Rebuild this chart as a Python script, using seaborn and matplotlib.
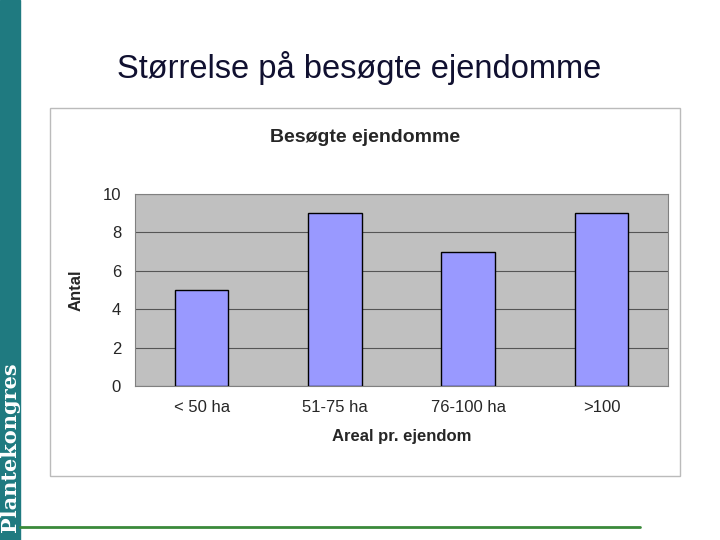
import matplotlib
matplotlib.use("Agg")
import matplotlib.pyplot as plt
import seaborn as sns
import pandas as pd
from matplotlib.patches import Rectangle
from matplotlib.lines import Line2D

categories = ["< 50 ha", "51-75 ha", "76-100 ha", ">100"]
values = [5, 9, 7, 9]
yticks = [0, 2, 4, 6, 8, 10]

sns.set_style("white")
plt.rcParams['font.family'] = ['Liberation Sans', 'DejaVu Sans']

fig = plt.figure(figsize=(7.2, 5.4), dpi=100)
fig.patches.append(Rectangle((0, 0), 20/720, 1, transform=fig.transFigure, color="#1F7A80", zorder=0))
fig.text(10/720, 0.015, "Plantekongres", rotation=90, color="white", fontsize=15, fontweight="bold",
         family="DejaVu Serif", ha="center", va="bottom")
fig.text(359/720, 1-68/540, "Størrelse på besøgte ejendomme", fontsize=23.5, ha="center", va="center",
         color="#101030")
fig.patches.append(Rectangle((50/720, 1-476/540), 630/720, 368/540, transform=fig.transFigure,
                             fill=False, edgecolor="#BBBBBB", lw=1))
fig.lines.append(Line2D([20/720, 640/720], [1-527/540]*2, transform=fig.transFigure, color="#3A8A3A", lw=2))
fig.text(365/720, 1-137/540, "Besøgte ejendomme", fontsize=14, fontweight="bold", ha="center", va="center")

ax = fig.add_axes([135/720, 1-386/540, 533/720, 192/540])
df = pd.DataFrame({"cat": categories, "val": values})
sns.barplot(data=df, x="cat", y="val", ax=ax, color="#9999FF", edgecolor="black",
            linewidth=1, width=0.4, saturation=1, zorder=3)
ax.set_facecolor("#C0C0C0")
ax.set_ylim(0, 10)
ax.set_yticks(yticks)
ax.grid(axis="y", color="#555555", lw=0.8, zorder=0)
ax.set_axisbelow(True)
for s in ax.spines.values():
    s.set_color("#808080")
ax.tick_params(axis="both", labelsize=12, length=0, pad=10)
ax.set_xlabel("Areal pr. ejendom", fontsize=12, fontweight="bold", labelpad=10)
ax.set_ylabel("Antal", fontsize=12, fontweight="bold", labelpad=14)
fig.savefig("out.png", dpi=100)
